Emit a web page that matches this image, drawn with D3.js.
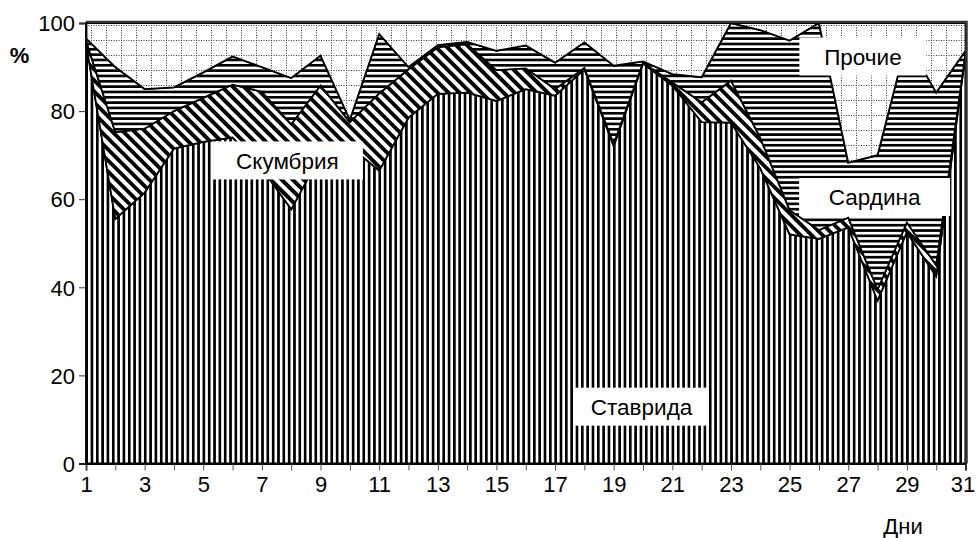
<!DOCTYPE html>
<html lang="ru">
<head>
	<meta charset="UTF-8">
	<title>Состав улова по дням</title>
	<script src="https://d3js.org/d3.v7.min.js"></script>
	<style>
		body, html {
			margin: 0;
			padding: 0;
			width: 100%;
			height: 100%;
			overflow: hidden;
			background: #fff;
		}
		svg {
			display: block;
		}
		.tick-label {
			font-family: "Liberation Sans", Arial, sans-serif;
			font-size: 22px;
			fill: #000;
		}
		.series-label {
			font-family: "Liberation Sans", Arial, sans-serif;
			font-size: 22.5px;
			fill: #000;
		}
	</style>
</head>
<body>
<div id="chart"></div>
<script>
	// Days of the month
	const days = [1, 2, 3, 4, 5, 6, 7, 8, 9, 10, 11, 12, 13, 14, 15, 16,
		17, 18, 19, 20, 21, 22, 23, 24, 25, 26, 27, 28, 29, 30, 31];

	// Share of each species, %
	const stavrida = [95.5, 55.5, 61.5, 71.5, 73, 74, 67, 57.7, 70, 72, 66.5, 78.5, 83.9, 84.2, 82.3, 85,
		83.5, 89.5, 72.1, 90.8, 85.8, 77.5, 77.4, 67, 52, 51, 53.6, 37, 52.5, 42.5, 93];
	const skumbria = [0.5, 19.7, 14.5, 8.5, 10, 12, 17.4, 19.3, 15.8, 5.5, 17.5, 11, 10.6, 11, 7, 4.7,
		1.5, 0.3, 0.4, 0.2, 0.7, 4.5, 9.5, 6.9, 5.5, 2, 2.2, 2.5, 2.2, 2.5, 0.3];
	const sardina = [0.5, 14.8, 9, 5.4, 5.8, 6.4, 5.6, 10.5, 6.8, 0.5, 13.5, 0.5, 0.5, 0.5, 4.4, 5.2,
		6, 5.8, 17.8, 0.3, 1.9, 5.7, 13.1, 24.5, 38.5, 47, 12.5, 30.5, 41.3, 39.2, 0.4];
	const prochie = [3.5, 10, 15, 14.6, 11.2, 7.6, 10, 12.5, 7.4, 22, 2.5, 10, 5, 4.3, 6.3, 5.1,
		9, 4.4, 9.7, 8.7, 11.6, 12.3, 0, 1.6, 4, 0, 31.7, 30, 4, 15.8, 6.3];

	const seriesNames = ["Ставрида", "Скумбрия", "Сардина", "Прочие"];
	const yTicks = [0, 20, 40, 60, 80, 100];
	const xTickLabels = [1, 3, 5, 7, 9, 11, 13, 15, 17, 19, 21, 23, 25, 27, 29, 31];

	// Where the series names sit (in day / percent units) and how wide their boxes are
	const labelLayout = [
		{ name: "Скумбрия", day: 7.87, value: 68.8, boxW: 151 },
		{ name: "Ставрида", day: 19.95, value: 12.9, boxW: 134 },
		{ name: "Сардина", day: 27.9, value: 60.5, boxW: 151 },
		{ name: "Прочие", day: 27.5, value: 92.4, boxW: 127 }
	];

	const width = 976;
	const height = 538;

	const svg = d3.select("#chart")
		.append("svg")
		.attr("width", width)
		.attr("height", height);

	const x = d3.scaleLinear().domain([1, 31]).range([86, 965.5]);
	const y = d3.scaleLinear().domain([0, 100]).range([463.5, 23]);

	// Fill patterns
	const defs = svg.append("defs");

	const pV = defs.append("pattern")
		.attr("id", "p-vert")
		.attr("patternUnits", "userSpaceOnUse")
		.attr("width", 5.33).attr("height", 10);
	pV.append("rect").attr("width", 5.33).attr("height", 10).attr("fill", "#fff");
	pV.append("rect").attr("width", 3).attr("height", 10).attr("fill", "#000")
		.attr("shape-rendering", "crispEdges");

	const pD = defs.append("pattern")
		.attr("id", "p-diag")
		.attr("patternUnits", "userSpaceOnUse")
		.attr("width", 7.8).attr("height", 10)
		.attr("patternTransform", "rotate(-45)");
	pD.append("rect").attr("width", 7.8).attr("height", 10).attr("fill", "#fff");
	pD.append("rect").attr("width", 3.9).attr("height", 10).attr("fill", "#000");

	const pH = defs.append("pattern")
		.attr("id", "p-horiz")
		.attr("patternUnits", "userSpaceOnUse")
		.attr("width", 10).attr("height", 5.33);
	pH.append("rect").attr("width", 10).attr("height", 5.33).attr("fill", "#fff");
	pH.append("rect").attr("width", 10).attr("height", 3).attr("fill", "#000")
		.attr("shape-rendering", "crispEdges");

	const pG = defs.append("pattern")
		.attr("id", "p-grid")
		.attr("patternUnits", "userSpaceOnUse")
		.attr("x", 91).attr("y", 25)
		.attr("width", 15).attr("height", 15);
	pG.append("rect").attr("width", 15).attr("height", 15).attr("fill", "#fff");
	pG.append("line").attr("x1", 0.5).attr("y1", 0).attr("x2", 0.5).attr("y2", 15)
		.attr("stroke", "#333").attr("stroke-width", 1).attr("stroke-dasharray", "1,1.5");
	pG.append("line").attr("x1", 0).attr("y1", 0.5).attr("x2", 15).attr("y2", 0.5)
		.attr("stroke", "#333").attr("stroke-width", 1).attr("stroke-dasharray", "1,1.5");

	const fills = {
		"Ставрида": "url(#p-vert)",
		"Скумбрия": "url(#p-diag)",
		"Сардина": "url(#p-horiz)",
		"Прочие": "url(#p-grid)"
	};

	// Build table for the stack
	const rows = days.map((d, i) => ({
		day: d,
		"Ставрида": stavrida[i],
		"Скумбрия": skumbria[i],
		"Сардина": sardina[i],
		"Прочие": prochie[i]
	}));

	const stacked = d3.stack().keys(seriesNames)(rows);

	const area = d3.area()
		.x(d => x(d.data.day))
		.y0(d => y(d[0]))
		.y1(d => y(d[1]));

	svg.append("g")
		.selectAll("path")
		.data(stacked)
		.enter()
		.append("path")
		.attr("d", area)
		.attr("fill", d => fills[d.key])
		.attr("stroke", "#000")
		.attr("stroke-width", 1.8)
		.attr("stroke-linejoin", "miter");

	// Plot frame (top and right edges look heavier)
	svg.append("path")
		.attr("d", `M${x(1)},${y(100) - 1}H${x(31) + 1}V${y(0)}`)
		.attr("fill", "none")
		.attr("stroke", "#333")
		.attr("stroke-width", 2.5);

	// Axes
	const xAxis = d3.axisBottom(x)
		.tickValues(days)
		.tickSize(7)
		.tickFormat(d => xTickLabels.includes(d) ? d : "");

	const gx = svg.append("g")
		.attr("transform", `translate(0,${y(0)})`)
		.call(xAxis);
	gx.select(".domain").attr("stroke", "#000").attr("stroke-width", 1.8);
	gx.selectAll(".tick line").attr("stroke", "#555").attr("stroke-width", 1);
	gx.selectAll(".tick text")
		.attr("class", "tick-label")
		.attr("y", 13)
		.attr("dy", "0.71em")
		.attr("dx", d => d === 31 ? -3 : 0);

	const yAxis = d3.axisLeft(y)
		.tickValues(yTicks)
		.tickSize(7)
		.tickFormat(d3.format("d"));

	const gy = svg.append("g")
		.attr("transform", `translate(${x(1)},0)`)
		.call(yAxis);
	gy.select(".domain").attr("stroke", "#000").attr("stroke-width", 1.8);
	gy.selectAll(".tick line").attr("stroke", "#333").attr("stroke-width", 1);
	gy.selectAll(".tick text")
		.attr("class", "tick-label")
		.attr("x", -11)
		.attr("dy", "0.35em");

	// Axis titles
	svg.append("text")
		.attr("class", "tick-label")
		.attr("x", 19.5)
		.attr("y", 63)
		.attr("text-anchor", "middle")
		.attr("font-weight", "bold")
		.text("%");

	svg.append("text")
		.attr("class", "tick-label")
		.attr("x", 903)
		.attr("y", 534)
		.attr("text-anchor", "middle")
		.text("Дни");

	// Series names in white boxes
	const labels = svg.append("g")
		.selectAll("g")
		.data(labelLayout)
		.enter()
		.append("g")
		.attr("transform", d => `translate(${x(d.day)},${y(d.value)})`);

	labels.append("rect")
		.attr("x", d => -d.boxW / 2)
		.attr("y", -19)
		.attr("width", d => d.boxW)
		.attr("height", 38)
		.attr("fill", "#fff");

	labels.append("text")
		.attr("class", "series-label")
		.attr("text-anchor", "middle")
		.attr("dy", "0.36em")
		.text(d => d.name);
</script>
</body>
</html>
